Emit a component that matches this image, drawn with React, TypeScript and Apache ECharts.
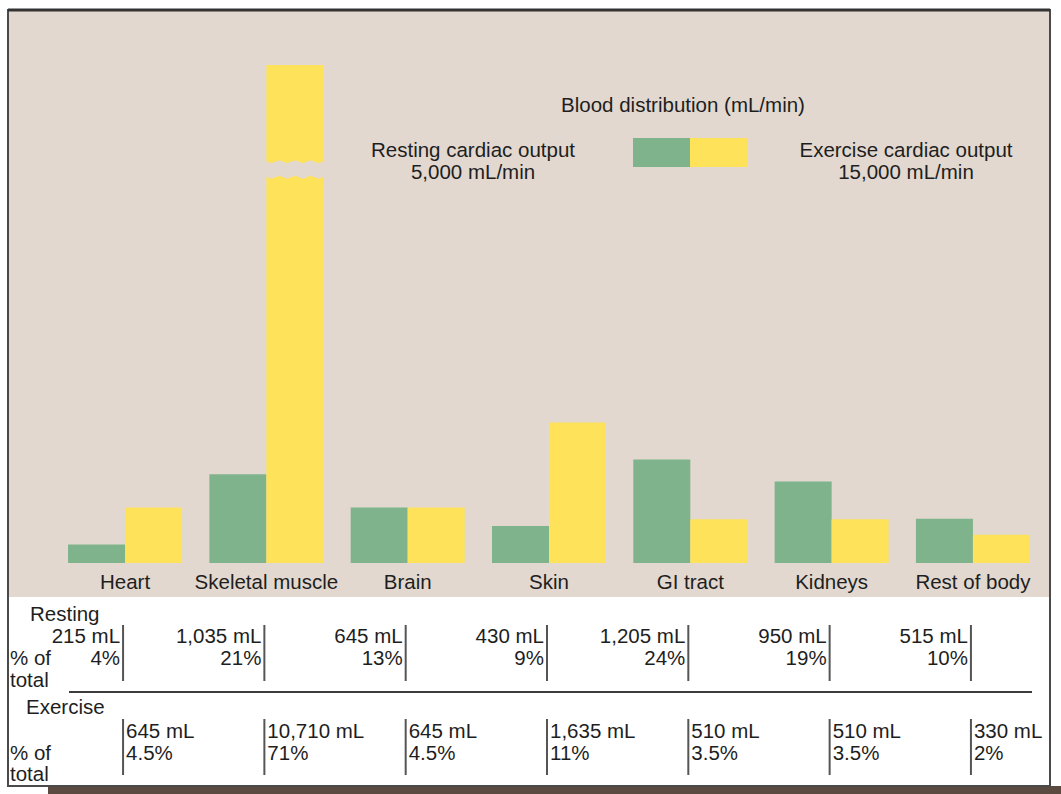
import React, { useEffect, useRef } from "react";
import * as echarts from "echarts";

const categories = ["Heart", "Skeletal muscle", "Brain", "Skin", "GI tract", "Kidneys", "Rest of body"];
const restingML = [215, 1035, 645, 430, 1205, 950, 515];
const exerciseML = [645, 10710, 645, 1635, 510, 510, 330];
const restingPct = [4, 21, 13, 9, 24, 19, 10];
const exercisePct = [4.5, 71, 4.5, 11, 3.5, 3.5, 2];
const restingTotal = 5000;
const exerciseTotal = 15000;
const yMax = 5800;

const FONT = "'Liberation Sans', Arial, Helvetica, sans-serif";
const FS = 20.5;
const BEIGE = "#e2d8cf";
const GREEN = "#7fb38b";
const YELLOW = "#fde25a";
const TXT = "#1e1e1e";

const fmt = (v: number) => v.toLocaleString("en-US");

export default function App() {
  const ref = useRef<HTMLDivElement>(null);
  useEffect(() => {
    if (!ref.current) return;
    const chart = echarts.init(ref.current, undefined, { renderer: "svg" });
    const base: any = {
      animation: false,
      backgroundColor: "#ffffff",
      textStyle: { fontFamily: FONT },
      title: [
        {
          text: "Blood distribution (mL/min)",
          left: 683, top: 93, textAlign: "center", padding: 0,
          textStyle: { fontFamily: FONT, fontSize: FS, fontWeight: "normal", color: TXT, lineHeight: 22 },
        },
        {
          text: "Resting cardiac output\n" + fmt(restingTotal) + " mL/min",
          left: 473, top: 138, textAlign: "center", padding: 0,
          textStyle: { fontFamily: FONT, fontSize: FS, fontWeight: "normal", color: TXT, lineHeight: 22 },
        },
        {
          text: "Exercise cardiac output\n" + fmt(exerciseTotal) + " mL/min",
          left: 906, top: 138, textAlign: "center", padding: 0,
          textStyle: { fontFamily: FONT, fontSize: FS, fontWeight: "normal", color: TXT, lineHeight: 22 },
        },
      ],
      legend: [
        {
          data: ["Resting"], left: 633, top: 138, padding: 0, itemGap: 0,
          itemWidth: 57, itemHeight: 29, icon: "rect", selectedMode: false,
          formatter: () => "", textStyle: { fontSize: 1 },
        },
        {
          data: ["Exercise"], left: 690, top: 138, padding: 0, itemGap: 0,
          itemWidth: 57, itemHeight: 29, icon: "rect", selectedMode: false,
          formatter: () => "", textStyle: { fontSize: 1 },
        },
      ],
      grid: { left: 54.4, right: 17.4, top: 65, bottom: 231, containLabel: false },
      xAxis: {
        type: "category",
        data: categories,
        axisLine: { show: false },
        axisTick: { show: false },
        axisLabel: { color: TXT, fontSize: FS, fontFamily: FONT, margin: 8, interval: 0 },
      },
      yAxis: {
        type: "value", min: 0, max: yMax, show: false,
        splitLine: { show: false },
      },
      series: [
        {
          name: "Resting", type: "bar", data: restingML, barWidth: 57, barGap: "0%",
          itemStyle: { color: GREEN }, clip: true,
        },
        {
          name: "Exercise", type: "bar", data: exerciseML, barWidth: 57, barGap: "0%",
          itemStyle: { color: YELLOW }, clip: true,
        },
      ],
    };
    chart.setOption(base);

    const cx = categories.map((c) => chart.convertToPixel({ xAxisIndex: 0 }, c) as number);
    const textStyle = (extra: any) => ({ fontFamily: FONT, fontSize: FS, fill: TXT, verticalAlign: "middle", ...extra });

    const els: any[] = [];
    // beige panel and frame
    els.push({ type: "rect", z: -10, shape: { x: 8, y: 10, width: 1042, height: 587 }, style: { fill: BEIGE } });
    els.push({ type: "rect", z: -11, shape: { x: 48, y: 786, width: 1013, height: 8 }, style: { fill: "#5b4a3f" } });
    els.push({ type: "rect", z: 20, shape: { x: 8, y: 10, width: 1042, height: 776 }, style: { fill: "none", stroke: "#4a4a4a", lineWidth: 2 } });
    els.push({ type: "line", z: 20, shape: { x1: 8, y1: 10, x2: 1050, y2: 10 }, style: { stroke: "#333", lineWidth: 3 } });

    // break in skeletal muscle exercise bar
    const bx = cx[1];
    const yTop = chart.convertToPixel({ yAxisIndex: 0 }, 4690) as number;
    const yBot = chart.convertToPixel({ yAxisIndex: 0 }, 4510) as number;
    const wave = [0, 3, 0, 3, 0, 3, 0, 3, 0];
    const x0 = bx - 3;
    const step = 63 / (wave.length - 1);
    const pts: number[][] = [];
    wave.forEach((w, i) => pts.push([x0 + i * step, yTop + w]));
    for (let i = wave.length - 1; i >= 0; i--) pts.push([x0 + i * step, yBot + wave[i]]);
    els.push({ type: "polygon", z: 10, shape: { points: pts }, style: { fill: BEIGE } });

    // table labels
    els.push({ type: "text", x: 30, y: 613, style: textStyle({ text: "Resting" }) });
    els.push({ type: "text", x: 10, y: 657, style: textStyle({ text: "% of" }) });
    els.push({ type: "text", x: 10, y: 679, style: textStyle({ text: "total" }) });
    els.push({ type: "line", shape: { x1: 69, y1: 692, x2: 1032, y2: 692 }, style: { stroke: "#3c3c3c", lineWidth: 2 } });
    els.push({ type: "text", x: 26, y: 706, style: textStyle({ text: "Exercise" }) });
    els.push({ type: "text", x: 10, y: 752, style: textStyle({ text: "% of" }) });
    els.push({ type: "text", x: 10, y: 773, style: textStyle({ text: "total" }) });

    cx.forEach((x, i) => {
      const sx = x - 2;
      els.push({ type: "line", shape: { x1: sx, y1: 625, x2: sx, y2: 681 }, style: { stroke: "#555", lineWidth: 2 } });
      els.push({ type: "text", x: sx - 3, y: 635, style: textStyle({ text: fmt(restingML[i]) + " mL", align: "right" }) });
      els.push({ type: "text", x: sx - 3, y: 657, style: textStyle({ text: restingPct[i] + "%", align: "right" }) });
      els.push({ type: "line", shape: { x1: sx, y1: 719, x2: sx, y2: 775 }, style: { stroke: "#555", lineWidth: 2 } });
      els.push({ type: "text", x: sx + 3, y: 730, style: textStyle({ text: fmt(exerciseML[i]) + " mL", align: "left" }) });
      els.push({ type: "text", x: sx + 3, y: 752, style: textStyle({ text: exercisePct[i] + "%", align: "left" }) });
    });

    chart.setOption({ graphic: { elements: els } });
    return () => chart.dispose();
  }, []);
  return <div ref={ref} style={{ position: "fixed", left: 0, top: 0, width: 1061, height: 794 }} />;
}
